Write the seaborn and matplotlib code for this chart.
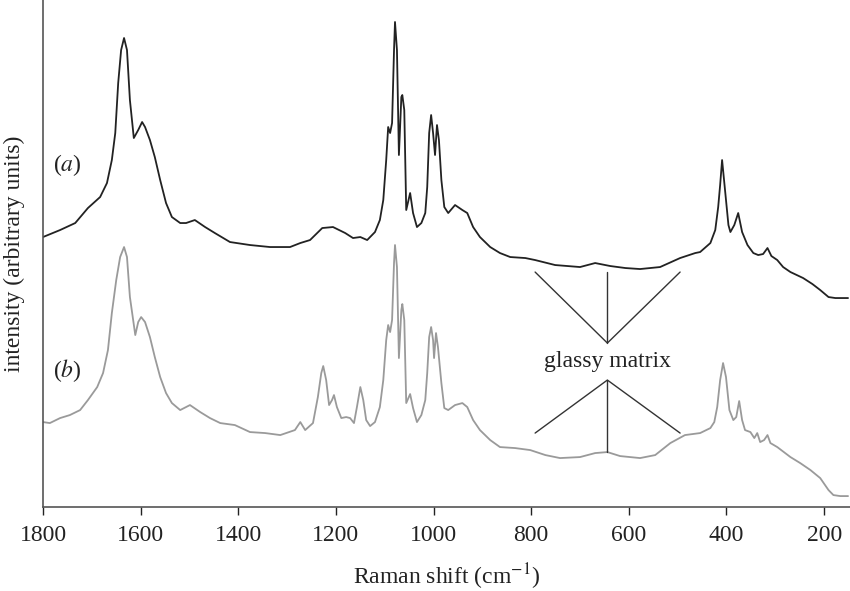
import matplotlib
matplotlib.use('Agg')
import matplotlib.pyplot as plt
import seaborn as sns
import pandas as pd

# spectrum (a) - Raman shift (cm-1) and intensity (arbitrary units)
shift_a = [1800, 1765, 1734, 1708, 1683, 1669, 1659, 1652, 1646, 1640, 1634, 1628, 1622, 1614,
           1605, 1597, 1591, 1581, 1571, 1560, 1548, 1536, 1519, 1507, 1489, 1468, 1448, 1417,
           1376, 1335, 1294, 1273, 1253, 1228, 1206, 1181, 1165, 1150, 1136, 1120, 1110, 1103,
           1097, 1093, 1089, 1085, 1081, 1079, 1075, 1071, 1066, 1064, 1060, 1056, 1048, 1042,
           1034, 1025, 1017, 1013, 1009, 1005, 1001, 997, 993, 989, 984, 978, 970, 956, 941,
           931, 919, 905, 884, 864, 843, 812, 792, 751, 700, 669, 638, 607, 577, 536, 495,
           464, 454, 433, 423, 417, 413, 409, 403, 396, 392, 384, 376, 368, 357, 345, 335,
           325, 316, 308, 296, 284, 269, 243, 224, 208, 191, 177, 151]
int_a = [270, 277, 284, 299, 310, 324, 347, 374, 424, 457, 469, 457, 407, 369,
         377, 385, 380, 367, 350, 327, 304, 290, 284, 284, 287, 280, 274, 265,
         262, 260, 260, 264, 267, 279, 280, 274, 269, 270, 267, 275, 287, 307,
         347, 380, 374, 384, 457, 485, 457, 352, 410, 412, 397, 297, 314, 294,
         280, 284, 294, 320, 374, 392, 374, 352, 382, 367, 327, 300, 294, 302, 297,
         294, 280, 270, 260, 254, 250, 249, 247, 242, 240, 244, 241, 239, 238, 240, 249,
         254, 255, 264, 277, 300, 322, 347, 317, 282, 275, 282, 294, 275, 262, 254, 252,
         253, 259, 251, 247, 240, 235, 229, 223, 217, 210, 209, 209]

# spectrum (b)
shift_b = [1800, 1786, 1765, 1745, 1724, 1708, 1689, 1677, 1667, 1659, 1650, 1642, 1634, 1628,
           1622, 1611, 1605, 1599, 1591, 1581, 1571, 1560, 1548, 1536, 1519, 1499, 1478, 1458,
           1437, 1407, 1376, 1345, 1314, 1284, 1273, 1263, 1247, 1237, 1230, 1226, 1220, 1214,
           1208, 1204, 1198, 1189, 1179, 1171, 1163, 1157, 1150, 1144, 1138, 1130, 1120, 1110,
           1103, 1097, 1093, 1089, 1085, 1081, 1079, 1075, 1071, 1066, 1064, 1060, 1056, 1048,
           1042, 1034, 1025, 1017, 1013, 1009, 1005, 1001, 999, 995, 991, 984, 978, 970, 956,
           941, 931, 919, 905, 884, 864, 833, 802, 771, 741, 700, 669, 644, 618, 577, 546,
           515, 485, 454, 433, 425, 419, 413, 407, 401, 394, 386, 380, 374, 368, 362, 351,
           343, 337, 331, 323, 316, 310, 296, 269, 249, 228, 208, 191, 181, 167, 151]
int_b = [85, 84, 89, 92, 97, 107, 120, 134, 157, 194, 227, 250, 260, 250,
         210, 172, 185, 190, 185, 170, 150, 130, 114, 104, 97, 102, 95, 89,
         84, 82, 75, 74, 72, 77, 85, 77, 84, 110, 134, 141, 127, 102,
         107, 112, 100, 89, 90, 89, 84, 100, 120, 107, 87, 81, 85, 100,
         127, 167, 182, 175, 187, 244, 262, 240, 149, 197, 203, 187, 104, 113,
         99, 85, 92, 107, 134, 170, 180, 167, 149, 174, 160, 124, 99, 97, 102,
         104, 100, 87, 77, 67, 60, 59, 57, 52, 49, 50, 54, 55, 51, 49, 52,
         64, 72, 74, 79, 85, 100, 127, 144, 130, 97, 87, 90, 106, 87, 77, 75,
         69, 74, 65, 67, 72, 64, 60, 50, 44, 37, 29, 17, 12, 11, 11]

xticks = [1800, 1600, 1400, 1200, 1000, 800, 600, 400, 200]

# "glassy matrix" pointer lines
glass_x = [792, 644, 495]
glass_top = [235, 164, 235]
glass_bot = [74, 127, 74]

df_a = pd.DataFrame({'shift': shift_a, 'intensity': int_a})
df_b = pd.DataFrame({'shift': shift_b, 'intensity': int_b})

sns.set_style('white')
plt.rcParams['font.family'] = ['Liberation Serif', 'DejaVu Serif']
plt.rcParams['mathtext.fontset'] = 'stix'

fig = plt.figure(figsize=(8.5, 5.91), dpi=100)
ax = fig.add_axes([0.0506, 0.142, 0.9494, 0.858])

sns.lineplot(data=df_a, x='shift', y='intensity', ax=ax, color='#222222', lw=1.3,
             estimator=None, sort=False)
sns.lineplot(data=df_b, x='shift', y='intensity', ax=ax, color='#9a9a9a', lw=1.3,
             estimator=None, sort=False)

# pointer lines for the glassy matrix
ax.plot(glass_x, glass_top, color='#333333', lw=1.0)
ax.plot([glass_x[1], glass_x[1]], [glass_top[1], glass_top[0]], color='#333333', lw=1.0)
ax.plot(glass_x, glass_bot, color='#333333', lw=1.0)
ax.plot([glass_x[1], glass_x[1]], [glass_bot[1], 55], color='#333333', lw=1.0)
ax.text(glass_x[1], 146, 'glassy matrix', ha='center', va='center', fontsize=17, color='#222222')

ax.text(1780, 342, r'($a$)', ha='left', va='center', fontsize=17, color='#222222')
ax.text(1780, 137, r'($b$)', ha='left', va='center', fontsize=17, color='#222222')

ax.set_xlim(1800, 147)
ax.set_ylim(0, 507)
ax.set_xticks(xticks)
ax.set_xticklabels([str(t) for t in xticks])
ax.set_yticks([])
ax.set_xlabel(r'Raman shift (cm$^{-1}$)', fontsize=17, labelpad=11, color='#222222')
ax.set_ylabel('intensity (arbitrary units)', fontsize=17, color='#222222')
ax.yaxis.set_label_coords(-0.022, 0.5)
ax.tick_params(axis='x', direction='out', length=6, width=1.0, pad=7,
               labelsize=17, colors='#222222', bottom=True)
for side in ['top', 'right']:
    ax.spines[side].set_visible(False)
for side in ['left', 'bottom']:
    ax.spines[side].set_color('#555555')
    ax.spines[side].set_linewidth(1.2)

fig.savefig('out.png', dpi=100)
